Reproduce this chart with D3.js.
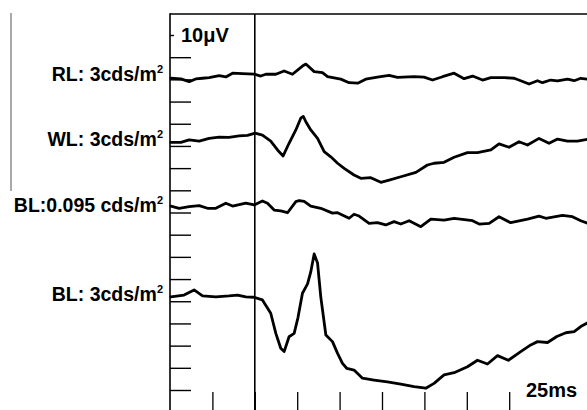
<!DOCTYPE html>
<html><head><meta charset="utf-8">
<script src="https://cdn.jsdelivr.net/npm/d3@7"></script>
<style>
body{margin:0;background:#fff}
svg{display:block}
text{font-family:"Liberation Sans",Arial,Helvetica,sans-serif;font-weight:bold;fill:#000}
</style>
</head><body>
<svg id="c" width="587" height="410"></svg>
<script>
// ---- data ----
const labelMain = ["RL: 3cds/m", "WL: 3cds/m", "BL:0.095 cds/m", "BL: 3cds/m"];
const labelSup = ["2", "2", "2", "2"];
const offsets = [141, 112, 82, 42];           // μV baseline of each trace
const yTickValues = d3.range(0, 161, 10);       // μV
const xTickValues = [-25, 0, 25, 50, 75, 100, 125, 150]; // ms
const scaleY = "10μV";
const scaleX = "25ms";

// RL: 3cds/m2  (time ms, amplitude μV)
const rlT = [-49.5,-43.6,-38.7,-34.8,-30.8,-26.9,-21.0,-17.1,-13.1,-7.3,-0.4,3.5,6.5,12.4,17.3,22.2,28.1,30.1,35.0,39.9,42.9,50.7,55.6,60.7,65.4,72.3,79.2,84.1,93.9,99.8,104.8,110.7,117.5,123.4,128.4,134.3,139.2,147.0,152.9,156.8,161.7,166.7,169.6,174.5,178.5,184.4,188.3,192.2,196.3];
const rlV = [-0.5,-0.8,-2.0,-0.8,-0.5,-0.2,0.7,0.1,1.8,1.6,1.4,0.5,1.3,1.3,2.8,1.3,5.0,5.9,2.5,2.0,0.2,-0.9,-2.5,-2.7,-0.9,0,0.8,-0.1,0.2,0,-1.3,0.2,1.8,-0.7,0.5,-1.3,-0.2,-0.2,-0.5,-1.6,-3.1,-1.6,-2.5,-1.3,-1.7,-0.9,-1.6,-0.5,-0.9];

// WL: 3cds/m2
const wlT = [-49.5,-43.6,-38.7,-32.8,-26.9,-21.0,-15.2,-9.3,-4.3,0.2,4.5,9.4,13.4,16.7,20.2,24.2,27.1,28.6,30.1,33.0,37.0,40.9,44.8,48.8,52.7,58.5,62.5,68.4,74.3,79.2,86.1,95.0,101.8,105.7,111.6,117.5,125.4,131.3,139.2,144.0,149.9,155.8,160.8,167.6,173.5,178.5,184.4,190.3,196.3];
const wlV = [-0.4,-0.4,0.7,0.2,1.4,2.0,1.9,2.5,2.8,3.8,2.9,0.2,-3.8,-6.5,-0.8,5.2,10.5,11.3,8.9,5.2,1.4,-4.6,-6.9,-9.8,-12.1,-15.1,-16.6,-16.3,-18.4,-17.4,-15.9,-13.9,-10.6,-9.8,-9.4,-7.1,-5.0,-5.0,-3.8,-1.1,-2.6,-0.1,-1.6,1.4,-0.8,1.1,0.2,0.2,1.0];

// BL: 0.095 cds/m2
const bl1T = [-49.5,-44.6,-38.7,-32.8,-27.9,-23.0,-17.1,-13.1,-5.3,-0.4,4.5,7.5,11.4,15.3,19.3,24.2,26.2,29.1,33.0,38.9,45.8,48.8,55.6,58.5,61.5,67.4,72.3,77.2,82.1,86.1,91.0,97.9,103.8,111.6,117.5,128.4,132.3,138.2,144.0,150.9,160.8,167.6,171.6,181.4,187.3,192.2,196.3];
const bl1V = [0.9,-0.1,0.6,1.1,-0.1,-0.1,2.2,0.9,2.2,1.4,3.2,2.2,-0.9,-1.3,-2.1,2.9,3.4,3.0,0.9,-0.1,-2.3,-2.1,-4.6,-2.8,-3.6,-6.9,-6.6,-7.6,-6.1,-7.2,-5.7,-8.4,-5.0,-5.4,-4.6,-5.7,-7.2,-6.9,-3.9,-6.6,-5.0,-3.6,-4.6,-3.3,-3.9,-5.7,-6.9];

// BL: 3cds/m2
const bl3T = [-49.5,-41.7,-35.8,-30.8,-23.0,-15.2,-10.2,-5.3,-0.4,4.5,9.4,12.4,15.3,17.3,20.2,23.2,25.4,28.1,31.1,33.0,35.0,37.0,38.9,41.9,45.8,48.8,51.7,54.3,58.5,63.5,70.3,78.2,86.1,93.9,100.8,105.7,111.6,117.5,125.4,131.3,137.2,143.1,149.5,156.8,162.7,166.7,172.6,178.1,183.4,188.3,192.2,196.3];
const bl3V = [0,0.8,3.1,0.4,0,0.4,0.8,0,-0.2,-1.4,-7.4,-16.5,-23.2,-24.7,-18.0,-16.5,-9.6,1.6,5.8,11.2,19.3,15.2,0,-17.2,-20.2,-25.5,-30.0,-32.3,-33.0,-36.7,-37.5,-38.3,-39.3,-40.5,-41.2,-39.0,-35.2,-34.2,-31.5,-28.6,-30.3,-26.5,-28.6,-24.7,-21.7,-20.2,-20.6,-17.9,-16.2,-15.7,-13.4,-11.7];

const seriesT = [rlT, wlT, bl1T, bl3T];
const seriesV = [rlV, wlV, bl1V, bl3V];

// ---- chart ----
const svg = d3.select("#c");
const x = d3.scaleLinear().domain([-50, 200]).range([170, 594]);
const y = d3.scaleLinear().domain([0, 160]).range([390, 35]);

// stray thin line on the left
svg.append("line").attr("x1", 11).attr("x2", 11).attr("y1", 13).attr("y2", 191)
  .attr("stroke", "#555").attr("stroke-width", 1);

// top border
svg.append("line").attr("x1", 170).attr("x2", 587).attr("y1", 14).attr("y2", 14)
  .attr("stroke", "#000").attr("stroke-width", 1.6);

// left axis with ticks pointing right
const yAxis = svg.append("g").attr("transform", "translate(170,0)")
  .call(d3.axisRight(y).tickValues(yTickValues).tickSize(21).tickFormat(""));
yAxis.select(".domain").remove();
yAxis.selectAll(".tick line").attr("stroke", "#000").attr("stroke-width", 1.4)
  .filter(d => d === 160).attr("x2", 4);
svg.append("line").attr("x1", 170).attr("x2", 170).attr("y1", 13.2).attr("y2", 410)
  .attr("stroke", "#000").attr("stroke-width", 1.6);

// bottom time ticks
const xAxis = svg.append("g").attr("transform", "translate(0,410)")
  .call(d3.axisTop(x).tickValues(xTickValues).tickSize(18).tickFormat(""));
xAxis.select(".domain").remove();
xAxis.selectAll(".tick line").attr("stroke", "#000").attr("stroke-width", 1.3);

// stimulus onset line
svg.append("line").attr("x1", x(0)).attr("x2", x(0)).attr("y1", 14).attr("y2", 410)
  .attr("stroke", "#000").attr("stroke-width", 1.6);

// traces
const line = d3.line().x(d => x(d[0])).y(d => y(d[1])).curve(d3.curveLinear);
seriesT.forEach((T, i) => {
  const pts = T.map((t, j) => [t, offsets[i] + seriesV[i][j]]);
  svg.append("path").attr("d", line(pts)).attr("fill", "none")
    .attr("stroke", "#000").attr("stroke-width", 2.8)
    .attr("stroke-linejoin", "round").attr("stroke-linecap", "round");
});

// trace labels
labelMain.forEach((s, i) => {
  const t = svg.append("text").attr("x", 163).attr("y", y(offsets[i]) + 4)
    .attr("text-anchor", "end").style("font-size", "19.5px");
  t.append("tspan").text(s);
  t.append("tspan").text(labelSup[i]).style("font-size", "11px").attr("dy", -8);
});

// scale labels
svg.append("text").attr("x", 181).attr("y", y(160) + 6.5).style("font-size", "20px").text(scaleY);
svg.append("text").attr("x", 526).attr("y", 397).style("font-size", "20px").text(scaleX);
</script>
</body></html>
